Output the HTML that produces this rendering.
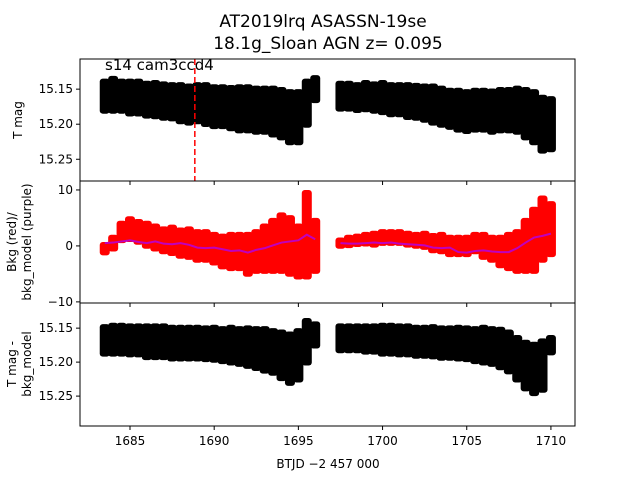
<!DOCTYPE html>
<html><head><meta charset="utf-8"><style>
body{margin:0;background:#fff}
svg text{font-family:"DejaVu Sans","Liberation Sans",sans-serif}
</style></head><body>
<svg id="chart" width="640" height="480" viewBox="0 0 640 480" xmlns="http://www.w3.org/2000/svg">
<text x="323" y="27" font-size="17" text-anchor="middle">AT2019lrq  ASASSN-19se</text>
<text x="328" y="49" font-size="17" text-anchor="middle">18.1g_Sloan AGN z= 0.095</text>
<g id="marks"></g>
<g id="axes"></g>
<text x="328" y="468" font-size="12" text-anchor="middle">BTJD −2 457 000</text>
<text transform="translate(22,120) rotate(-90)" font-size="12" text-anchor="middle">T mag</text>
<text transform="translate(16,242) rotate(-90)" font-size="12" text-anchor="middle">Bkg (red)/</text>
<text transform="translate(31,242) rotate(-90)" font-size="12" text-anchor="middle">bkg_model (purple)</text>
<text transform="translate(16,364) rotate(-90)" font-size="12" text-anchor="middle">T mag -</text>
<text transform="translate(31,364) rotate(-90)" font-size="12" text-anchor="middle">bkg_model</text>
<text x="105" y="70" font-size="15">s14 cam3ccd4</text>
</svg>
<script>
const tA=[1683.5,1684,1684.5,1685,1685.5,1686,1686.5,1687,1687.5,1688,1688.5,1689,1689.5,1690,1690.5,1691,1691.5,1692,1692.5,1693,1693.5,1694,1694.5,1695,1695.5,1696];
const tB=[1697.5,1698,1698.5,1699,1699.5,1700,1700.5,1701,1701.5,1702,1702.5,1703,1703.5,1704,1704.5,1705,1705.5,1706,1706.5,1707,1707.5,1708,1708.5,1709,1709.5,1710];
const p1cA=[15.16,15.158,15.16,15.162,15.162,15.165,15.165,15.167,15.168,15.17,15.172,15.17,15.172,15.175,15.175,15.177,15.178,15.178,15.18,15.18,15.182,15.185,15.19,15.19,15.17,15.15];
const p1sA=[0.025,0.027,0.025,0.027,0.027,0.027,0.028,0.028,0.028,0.03,0.03,0.03,0.032,0.032,0.032,0.033,0.035,0.035,0.035,0.035,0.037,0.038,0.04,0.04,0.035,0.02];
const p1cB=[15.16,15.16,15.162,15.16,15.162,15.162,15.165,15.165,15.167,15.168,15.17,15.172,15.175,15.178,15.18,15.182,15.18,15.18,15.182,15.18,15.18,15.18,15.185,15.19,15.2,15.2];
const p1sB=[0.022,0.022,0.022,0.023,0.023,0.025,0.025,0.025,0.027,0.027,0.028,0.03,0.03,0.03,0.032,0.032,0.032,0.032,0.033,0.033,0.033,0.035,0.038,0.04,0.042,0.04];
const p2cA=[-0.5,0.5,2.5,3,2.5,2,1.5,1,1,0.5,0.5,0,0,-0.5,-1,-1,-1,-1.5,-1,-0.5,0,0.5,0,-1,2,0];
const p2sA=[1.2,1.5,2,2.3,2.3,2.5,2.5,2.5,2.8,2.8,3,3,3,3,3.2,3.5,3.5,4,4,4.5,5,5.5,5.5,5,8,5];
const p2cB=[0.5,0.8,1,1.2,1.2,1.5,1.5,1.5,1.2,1,1,0.5,0.5,0,0,0,0.5,0,-0.5,-1,-1,-1,0,1,3,3];
const p2sB=[1,1.2,1.2,1.3,1.5,1.5,1.5,1.5,1.5,1.5,1.7,1.8,2,2,2,2,2,2.5,2.5,3,3.5,4,5,6,6,5];
const pmA=[0.5,0.6,0.8,1,0.7,0.5,0.8,0.4,0.3,0.5,0.2,-0.3,-0.4,-0.3,-0.6,-0.9,-0.8,-1.2,-0.7,-0.4,0.1,0.6,0.8,1,2,1.2];
const pmB=[0.5,0.4,0.4,0.5,0.6,0.5,0.6,0.4,0.3,0.2,0.1,-0.3,-0.4,-0.3,-1.1,-1.2,-0.9,-0.8,-1,-1.1,-1.1,-0.4,0.6,1.5,1.8,2.2];
const p3cA=[15.168,15.167,15.167,15.168,15.168,15.17,15.17,15.17,15.172,15.172,15.172,15.172,15.173,15.173,15.175,15.175,15.177,15.178,15.18,15.182,15.185,15.19,15.195,15.19,15.17,15.16];
const p3sA=[0.024,0.025,0.025,0.025,0.025,0.027,0.027,0.027,0.027,0.027,0.027,0.027,0.027,0.028,0.028,0.03,0.03,0.032,0.033,0.035,0.035,0.038,0.04,0.04,0.035,0.02];
const p3cB=[15.165,15.165,15.165,15.166,15.166,15.167,15.167,15.168,15.168,15.17,15.17,15.17,15.172,15.172,15.172,15.173,15.175,15.175,15.177,15.18,15.185,15.195,15.205,15.21,15.205,15.175];
const p3sB=[0.022,0.022,0.022,0.023,0.023,0.025,0.025,0.025,0.025,0.025,0.025,0.026,0.026,0.026,0.027,0.027,0.028,0.03,0.03,0.032,0.033,0.035,0.038,0.04,0.04,0.015];
const xTicks=[1685,1690,1695,1700,1705,1710];
const y1Ticks=[15.15,15.20,15.25];
const y2Ticks=[10,0,-10];
const y3Ticks=[15.15,15.20,15.25];
const markerT=1688.85;

const NS="http://www.w3.org/2000/svg";
const L=80,R=575;
const X=t=>L+(t-1682.03)*(R-L)/(1711.43-1682.03);
const panels=[{top:59,bot:181,min:15.107,max:15.281,inv:true},{top:181,bot:303,min:-10.2,max:11.6,inv:false},{top:303,bot:426,min:15.113,max:15.294,inv:true}];
function Y(p,v){const P=panels[p];const f=(v-P.min)/(P.max-P.min);return P.inv?P.top+f*(P.bot-P.top):P.bot-f*(P.bot-P.top);}
const marks=document.getElementById('marks'),axes=document.getElementById('axes');
function el(tag,a,parent){const e=document.createElementNS(NS,tag);for(const k in a)e.setAttribute(k,a[k]);parent.appendChild(e);return e;}
const hw=(X(1)-X(0))*0.5/2+0.8;
function band(p,ts,cs,ss,color,name){
  ts.forEach((t,i)=>{
    const y1=Y(p,cs[i]-ss[i]),y2=Y(p,cs[i]+ss[i]);
    const r=el('rect',{x:X(t)-hw,y:Math.min(y1,y2),width:2*hw,height:Math.abs(y2-y1),fill:color,rx:3},marks);
    
    
  });
}
band(0,tA,p1cA,p1sA,'#000','tmag-points');
band(0,tB,p1cB,p1sB,'#000','tmag-points');
band(1,tA,p2cA,p2sA,'#ff0000','bkg-points');
band(1,tB,p2cB,p2sB,'#ff0000','bkg-points');
band(2,tA,p3cA,p3sA,'#000','tmag-minus-bkg-points');
band(2,tB,p3cB,p3sB,'#000','tmag-minus-bkg-points');
function line(p,ts,vs,name){
  const pl=el('polyline',{points:ts.map((t,i)=>X(t)+','+Y(p,vs[i])).join(' '),fill:'none',stroke:'#bf00bf','stroke-width':2},marks);
  
  
}
line(1,tA,pmA,'bkg-model-line');
line(1,tB,pmB,'bkg-model-line');
const dl=el('line',{x1:X(markerT),x2:X(markerT),y1:59,y2:181,stroke:'#ff0000','stroke-width':1.5,'stroke-dasharray':'6,3'},marks);


panels.forEach((P,pi)=>{
  const fr=el('rect',{x:L,y:P.top,width:R-L,height:P.bot-P.top,fill:'none',stroke:'#000','stroke-width':1},axes);
  
  
  xTicks.forEach(t=>{el('line',{x1:X(t),x2:X(t),y1:P.bot,y2:P.bot+4,stroke:'#000'},axes);});
  const yt=[y1Ticks,y2Ticks,y3Ticks][pi];
  yt.forEach(v=>{
    const y=Y(pi,v);
    el('line',{x1:L-4,x2:L,y1:y,y2:y,stroke:'#000'},axes);
    const tx=el('text',{x:L-7,y:y+4,'font-size':12,'text-anchor':'end'},axes);
    tx.textContent=pi===1?(v<0?'−'+(-v):String(v)):v.toFixed(2);
    
    
  });
});
xTicks.forEach(t=>{
  const tx=el('text',{x:X(t),y:445,'font-size':12,'text-anchor':'middle'},axes);
  tx.textContent=t;
  
  
});
</script>
</body></html>
